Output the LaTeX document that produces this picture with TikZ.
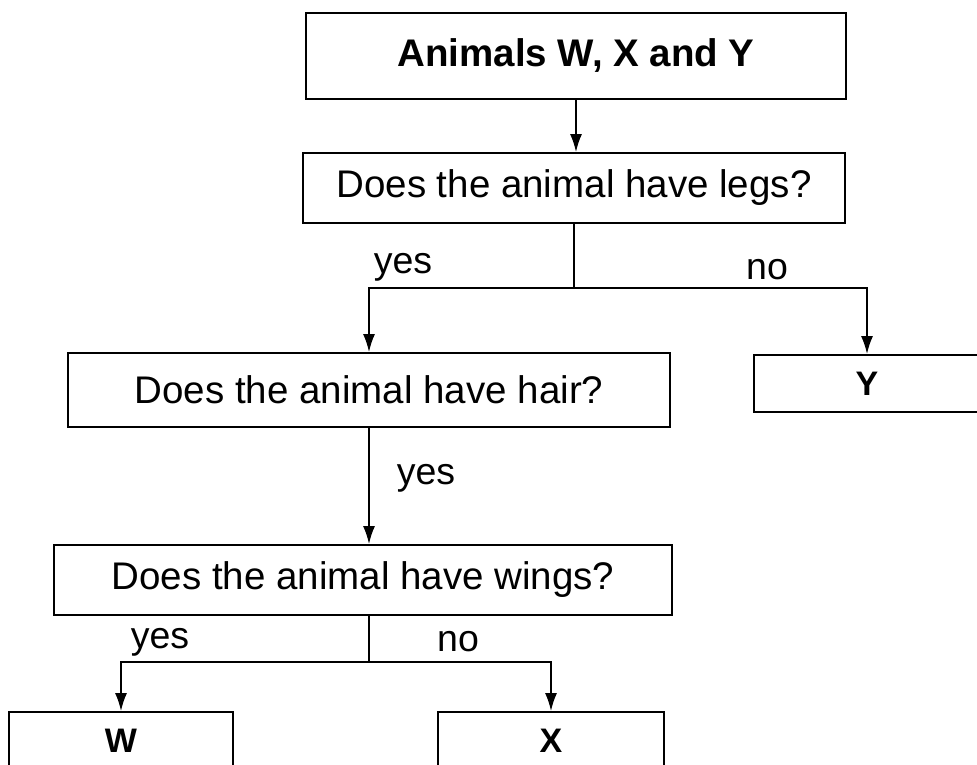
\documentclass[tikz,border=0pt]{standalone}
\usepackage{fontspec}
\setmainfont{Liberation Sans}
\usetikzlibrary{arrows.meta}
\begin{document}
\begin{tikzpicture}[x=1pt,y=-1pt,
  txt/.style={font=\fontsize{38.5}{42}\selectfont},
  box/.style={draw,line width=1.8pt,inner sep=0pt,txt},
  conn/.style={line width=1.8pt},
  arr/.style={line width=1.8pt,-{Latex[length=18pt,width=12pt]}},
  lbl/.style={inner sep=0pt,font=\fontsize{37.5}{40}\selectfont}]
\useasboundingbox (0,0) rectangle (977,764);
\begin{scope}
\clip (0,0) rectangle (977,764);
\node[box,minimum width=540pt,minimum height=86pt,font=\bfseries\fontsize{38.5}{42}\selectfont] (a) at (576,56) {Animals W, X and Y};
\node[box,minimum width=542pt,minimum height=70pt] (b) at (574,188) {Does the animal have legs?};
\node[box,minimum width=602pt,minimum height=74pt] (c) at (369,390) {Does the animal have hair?};
\node[box,minimum width=226pt,minimum height=57pt,font=\bfseries\fontsize{34}{38}\selectfont] (y) at (867,383.5) {Y};
\node[box,minimum width=618pt,minimum height=70pt] (d) at (363,580) {Does the animal have wings?};
\node[box,minimum width=224pt,minimum height=57pt,font=\bfseries\fontsize{34}{38}\selectfont] (w) at (121,740.5) {W};
\node[box,minimum width=226pt,minimum height=57pt,font=\bfseries\fontsize{34}{38}\selectfont] (x) at (551,740.5) {X};

\draw[arr] (a.south) -- (a.south |- b.north);

\coordinate (j1) at (574,288);
\draw[conn] (b.south) -- (j1);
\draw[arr] (j1) -| (c.north);
\draw[arr] (j1) -| (y.north);
\node[lbl] (l1) at (403,267) {yes};
\node[lbl] (l2) at (767,270) {no};

\draw[arr] (c.south) -- (c.south |- d.north);
\node[lbl] (l3) at (426,478) {yes};

\coordinate (j2) at (369,662);
\draw[conn] (d.south -| j2) -- (j2);
\draw[arr] (j2) -| (w.north);
\draw[arr] (j2) -| (x.north);
\node[lbl] (l4) at (160,642) {yes};
\node[lbl] (l5) at (458,642) {no};
\end{scope}
\end{tikzpicture}
\end{document}
